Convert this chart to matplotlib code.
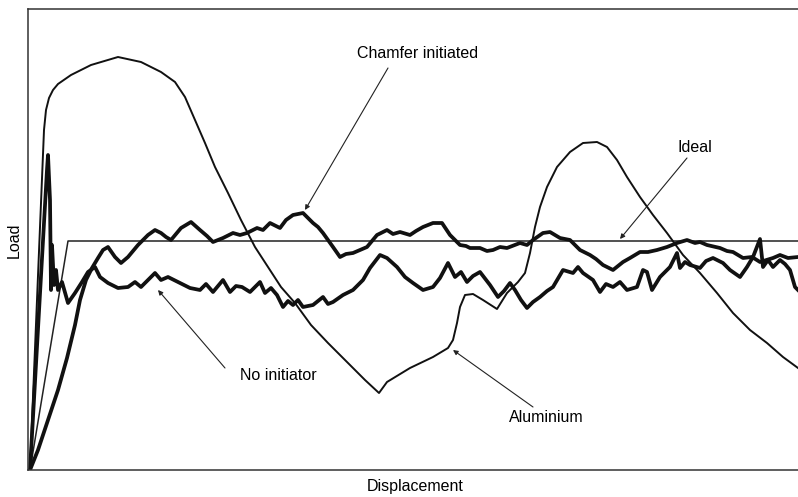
import numpy as np
import matplotlib.pyplot as plt

plt.rcParams['font.family'] = ['Liberation Sans', 'DejaVu Sans']

# ideal crush response: linear rise then constant load
ideal_disp = [0, 38, 770]
ideal_load = [0, 229, 229]

# aluminium tube
alu_disp = [0, 14, 16, 19, 23, 28, 41, 61, 88, 111, 131, 145, 155, 165, 175,
            185, 198, 211, 225, 238, 251, 265, 281, 298, 318, 335, 349, 357,
            380, 403, 418, 423, 427, 430, 435, 443, 453, 467, 477, 488, 495,
            500, 505, 510, 517, 527, 540, 553, 567, 577, 587, 597, 610, 623,
            637, 653, 670, 687, 703, 720, 737, 753, 768]
alu_load = [0, 340, 360, 372, 380, 386, 395, 405, 413, 408, 398, 388, 373, 350,
            327, 303, 277, 250, 223, 203, 183, 167, 145, 127, 107, 90, 77, 88,
            102, 113, 122, 130, 147, 163, 175, 176, 170, 161, 177, 188, 197,
            217, 243, 263, 283, 303, 318, 327, 328, 323, 310, 293, 273, 255,
            237, 215, 197, 177, 157, 140, 127, 113, 102]

# composite tube with chamfer trigger
cham_disp = [0, 8, 18, 28, 37, 45, 50, 56, 62, 68, 73, 78, 85, 91, 98, 103, 108,
             118, 125, 131, 136, 141, 151, 156, 161, 170, 177, 183, 193, 203,
             210, 217, 227, 233, 240, 250, 256, 263, 273, 283, 288, 293, 303,
             310, 316, 323, 330, 337, 347, 357, 363, 370, 380, 386, 393, 403,
             412, 420, 430, 436, 440, 450, 457, 463, 470, 477, 490, 497, 503,
             513, 520, 530, 540, 550, 560, 566, 573, 583, 593, 600, 610, 618,
             627, 637, 647, 657, 665, 670, 677, 690, 697, 703, 713, 722, 730,
             743, 750, 758, 768]
cham_load = [0, 20, 50, 80, 112, 145, 170, 190, 202, 212, 220, 223, 213, 207,
             213, 219, 225, 235, 240, 237, 233, 230, 242, 245, 248, 240, 234, 228,
             232, 237, 235, 237, 242, 240, 247, 242, 250, 255, 257, 247, 243,
             237, 223, 213, 216, 217, 220, 223, 235, 240, 236, 238, 235, 239, 243,
             247, 247, 235, 225, 224, 222, 222, 219, 220, 223, 222, 227, 225,
             230, 237, 238, 232, 230, 220, 215, 211, 205, 200, 208, 212, 218,
             218, 220, 223, 227, 230, 227, 228, 225, 222, 219, 218, 212, 213,
             208, 212, 215, 212, 213]

# composite tube without trigger
noin_disp = [0, 17, 18, 20, 21, 22, 24, 26, 28, 32, 38, 45, 52, 58, 65, 70, 78,
             88, 98, 105, 111, 118, 125, 131, 138, 148, 160, 170, 176, 183, 193,
             200, 206, 212, 220, 230, 235, 241, 247, 253, 258, 263, 268, 273,
             283, 293, 298, 303, 313, 323, 333, 340, 350, 357, 367, 375, 383,
             393, 403, 410, 418, 425, 431, 437, 443, 450, 460, 468, 474, 480,
             485, 491, 497, 503, 510, 517, 523, 533, 543, 548, 553, 563, 570,
             576, 583, 590, 597, 607, 613, 617, 622, 630, 640, 647, 650, 655,
             660, 670, 676, 683, 693, 700, 710, 717, 723, 730, 733, 738, 743,
             750, 755, 760, 765, 768]
noin_load = [0, 300, 315, 270, 180, 225, 185, 200, 180, 188, 167, 177, 188, 198,
             203, 193, 187, 182, 183, 188, 183, 190, 197, 190, 193, 188, 182,
             180, 186, 178, 190, 178, 184, 183, 178, 188, 177, 182, 175, 163,
             169, 165, 170, 163, 165, 173, 166, 168, 175, 180, 190, 202, 215,
             212, 203, 193, 187, 180, 183, 192, 207, 193, 198, 188, 194, 198,
             185, 173, 179, 187, 180, 170, 162, 168, 173, 179, 183, 200, 197,
             203, 197, 190, 178, 186, 183, 188, 180, 183, 200, 198, 180, 193,
             203, 217, 202, 208, 205, 202, 209, 212, 207, 200, 193, 203, 213,
             231, 203, 210, 203, 210, 206, 200, 183, 180]

fig = plt.figure(figsize=(7.98, 4.97), dpi=100)
ax = fig.add_axes([28 / 798, 27 / 497, 770 / 798, 461 / 497])

ax.plot(ideal_disp, ideal_load, color='#222222', lw=1.1)
ax.plot(alu_disp, alu_load, color='#111111', lw=1.4)
ax.plot(cham_disp, cham_load, color='#111111', lw=2.7, solid_joinstyle='round')
ax.plot(noin_disp, noin_load, color='#111111', lw=2.7, solid_joinstyle='round')

ax.set_xlim(-2, 768)
ax.set_ylim(0, 461)
ax.set_xticks([])
ax.set_yticks([])
ax.spines['right'].set_visible(False)
for s in ['left', 'top', 'bottom']:
    ax.spines[s].set_color('#333333')
    ax.spines[s].set_linewidth(1.1)

arrow = dict(arrowstyle='-|>', color='#222222', lw=0.8,
             mutation_scale=7, shrinkA=0, shrinkB=0)
fs = 11.5

ax.text(388, 417, 'Chamfer initiated', ha='center', va='center', fontsize=fs)
ax.annotate('', xy=(275, 260), xytext=(358, 402), arrowprops=arrow)

ax.text(665, 323, 'Ideal', ha='center', va='center', fontsize=fs)
ax.annotate('', xy=(590, 231), xytext=(657, 312), arrowprops=arrow)

ax.text(248, 95, 'No initiator', ha='center', va='center', fontsize=fs)
ax.annotate('', xy=(128, 180), xytext=(195, 102), arrowprops=arrow)

ax.text(516, 52, 'Aluminium', ha='center', va='center', fontsize=fs)
ax.annotate('', xy=(423, 120), xytext=(503, 63), arrowprops=arrow)

fig.text(415 / 798, 1 - 486 / 497, 'Displacement', ha='center', va='center',
         fontsize=fs)
fig.text(14 / 798, 1 - 240 / 497, 'Load', ha='center', va='center',
         rotation=90, fontsize=fs)

fig.savefig('out.png', dpi=100)
